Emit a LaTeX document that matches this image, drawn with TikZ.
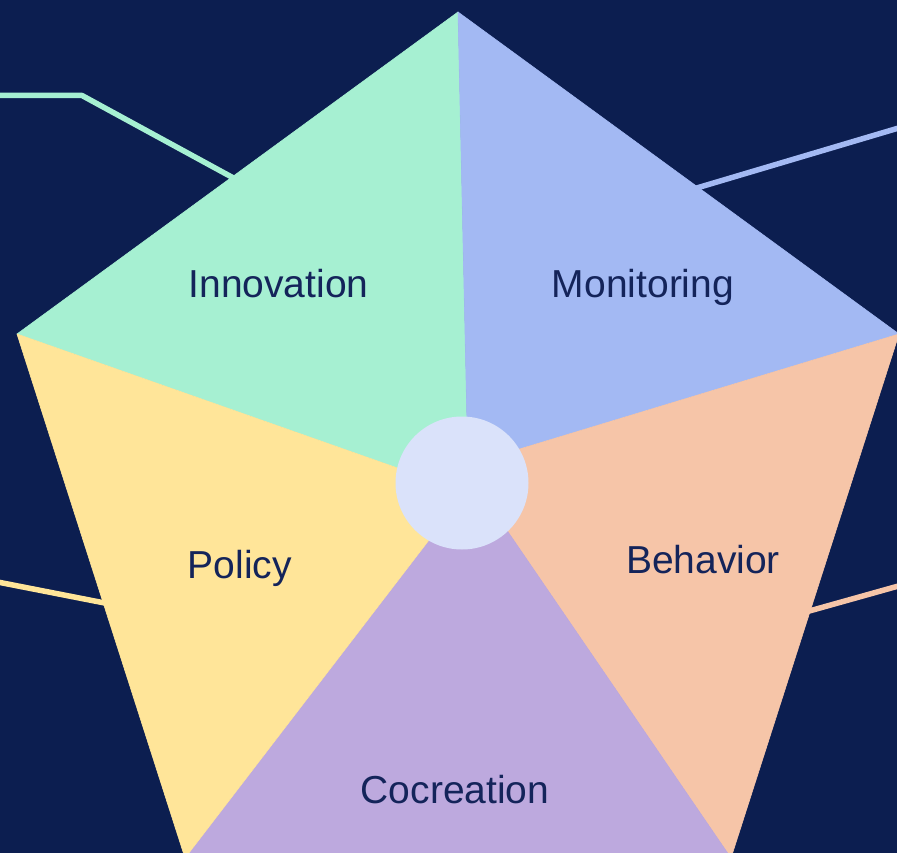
\documentclass[tikz,border=0pt]{standalone}
\usepackage{fontspec}
\setmainfont{Liberation Sans}
\definecolor{bg}{HTML}{0C1E50}
\definecolor{cgreen}{HTML}{A6F0D2}
\definecolor{cblue}{HTML}{A3B9F3}
\definecolor{cpeach}{HTML}{F6C5A8}
\definecolor{cpurple}{HTML}{BDA9DE}
\definecolor{cyellow}{HTML}{FFE599}
\definecolor{ccircle}{HTML}{DAE2FA}
\definecolor{ctext}{HTML}{14245A}
\tikzset{
  lbl/.style={font=\fontsize{39}{44}\selectfont, text=ctext, anchor=base, inner sep=0pt},
  conn/.style={line width=5.5pt},
  sector/.style={line width=0.6pt, line join=round}
}
\begin{document}
\begin{tikzpicture}[x=1pt,y=-1pt]
\fill[bg] (0,0) rectangle (897,853);
\useasboundingbox (0,0) rectangle (897,853);
\clip (0,0) rectangle (897,853);
% outer vertices
\coordinate (vt) at (458,12);
\coordinate (vr) at (899,334);
\coordinate (vbr) at (731,858);
\coordinate (vbl) at (185,858);
\coordinate (vl) at (17,334);
% inner spoke points (hidden by hub)
\coordinate (c) at (462,483);
\coordinate (st) at (468,470);
\coordinate (sl) at (440,483);
\coordinate (sr) at (490,458);
\coordinate (sbr) at (493,510);
\coordinate (sbl) at (452,510);
% connector free ends and bends
\coordinate (ia) at (-5,95.5);
\coordinate (ib) at (82,95.5);
\coordinate (ic) at (250,187);
\coordinate (ma) at (902,127);
\coordinate (mc) at (690,190);
\coordinate (pa) at (-5,581.5);
\coordinate (pc) at (120,606);
\coordinate (ba) at (902,585);
\coordinate (bc) at (795,615);
% connectors
\draw[conn, cgreen, line join=round] (ia) -- (ib) -- (ic);
\draw[conn, cblue] (ma) -- (mc);
\draw[conn, cyellow] (pa) -- (pc);
\draw[conn, cpeach] (ba) -- (bc);
% sectors
\filldraw[sector, cgreen] (vt) -- (st) -- (c) -- (sl) -- (vl) -- cycle;
\filldraw[sector, cblue] (vt) -- (vr) -- (sr) -- (c) -- (st) -- cycle;
\filldraw[sector, cpeach] (vr) -- (vbr) -- (sbr) -- (c) -- (sr) -- cycle;
\filldraw[sector, cpurple] (vbr) -- (vbl) -- (sbl) -- (c) -- (sbr) -- cycle;
\filldraw[sector, cyellow] (vbl) -- (vl) -- (sl) -- (c) -- (sbl) -- cycle;
% hub
\node[circle, fill=ccircle, minimum size=133pt, inner sep=0pt] (hub) at (462,483) {};
% labels
\node[lbl] (innov) at (278.5,298) {Innovation};
\node[lbl] (monit) at (643,297) {Monitoring};
\node[lbl] (policy) at (240,578) {Policy};
\node[lbl] (behav) at (703,573) {Behavior};
\node[lbl] (cocr) at (455,803) {Cocreation};
\end{tikzpicture}
\end{document}
